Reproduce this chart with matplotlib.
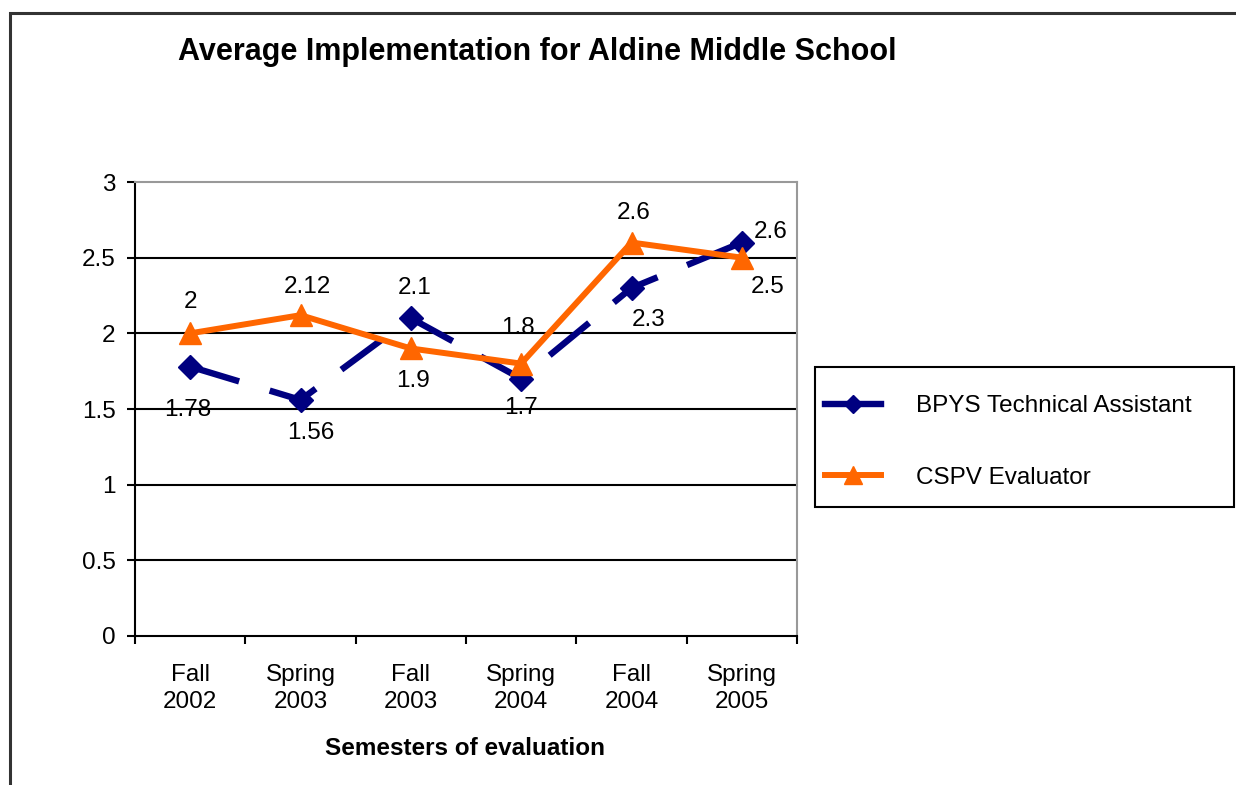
import matplotlib
matplotlib.use("Agg")
import matplotlib.pyplot as plt
from matplotlib.patches import Rectangle
from matplotlib.lines import Line2D
import numpy as np

plt.rcParams['font.family'] = ['Liberation Sans', 'DejaVu Sans']

categories = ["Fall\n2002", "Spring\n2003", "Fall\n2003", "Spring\n2004", "Fall\n2004", "Spring\n2005"]
bpys = [1.78, 1.56, 2.1, 1.7, 2.3, 2.6]
cspv = [2.0, 2.12, 1.9, 1.8, 2.6, 2.5]
bpys_labels = ["1.78", "1.56", "2.1", "1.7", "2.3", "2.6"]
cspv_labels = ["2", "2.12", "1.9", "1.8", "2.6", "2.5"]
series_names = ["BPYS Technical Assistant", "CSPV Evaluator"]
yticks = [0, 0.5, 1, 1.5, 2, 2.5, 3]
ytick_labels = ["0", "0.5", "1", "1.5", "2", "2.5", "3"]

# label offsets in pixels (dx, dy)
bpys_off = [(-2, -43), (10, -33), (4, 30), (0, -29), (17, -32), (29, 11)]
cspv_off = [(0, 31), (7, 28), (2, -33), (-3, 36), (2, 30), (26, -29)]

W, H = 1236, 785
fig = plt.figure(figsize=(W / 100, H / 100), dpi=100)
fig.patch.set_facecolor("white")

# outer chart frame
fig.patches.append(Rectangle((10 / W, -0.2), 1.2, 1.2 - 13 / H,
                             transform=fig.transFigure, fill=False,
                             edgecolor="#333333", linewidth=2.2))

ax = fig.add_axes([135 / W, 1 - 636 / H, (797 - 135) / W, (636 - 182) / H])
x = np.arange(len(categories))

navy = "#000080"
orange = "#FF6600"

ax.plot(x, bpys, color=navy, lw=4.6, linestyle=(0, (8, 5)), marker="D",
        markersize=12, markeredgecolor=navy, markerfacecolor=navy, zorder=3,
        dash_capstyle="butt")
ax.plot(x, cspv, color=orange, lw=4.3, marker="^", markersize=16,
        markeredgecolor=orange, markerfacecolor=orange, zorder=4)

for xi, yi, lab, (dx, dy) in zip(x, bpys, bpys_labels, bpys_off):
    ax.annotate(lab, (xi, yi), xytext=(dx, dy), textcoords="offset pixels",
                ha="center", va="center", fontsize=17.5, color="black", zorder=5)
for xi, yi, lab, (dx, dy) in zip(x, cspv, cspv_labels, cspv_off):
    ax.annotate(lab, (xi, yi), xytext=(dx, dy), textcoords="offset pixels",
                ha="center", va="center", fontsize=17.5, color="black", zorder=5)

ax.set_xlim(-0.5, len(categories) - 0.5)
ax.set_ylim(0, 3)
ax.set_yticks(yticks)
ax.set_yticklabels(ytick_labels, fontsize=17.5)
ax.set_xticks(x)
ax.set_xticklabels(categories, fontsize=17.5, linespacing=1.3)
ax.set_xticks(np.arange(-0.5, len(categories)), minor=True)
ax.tick_params(axis="x", which="major", length=0, pad=20)
ax.tick_params(axis="x", which="minor", length=6, width=1.5, direction="out", color="black")
ax.tick_params(axis="y", length=6, width=1.5, direction="out", pad=8, color="black")

for v in yticks[1:-1]:
    ax.axhline(v, color="black", lw=1.5, zorder=1)

ax.spines["left"].set_color("black")
ax.spines["left"].set_linewidth(1.5)
ax.spines["bottom"].set_color("black")
ax.spines["bottom"].set_linewidth(1.5)
ax.spines["top"].set_color("#999999")
ax.spines["top"].set_linewidth(1.5)
ax.spines["right"].set_color("#999999")
ax.spines["right"].set_linewidth(1.5)

ax.set_xlabel("Semesters of evaluation", fontsize=17.5, fontweight="bold")
ax.xaxis.set_label_coords(0.4985, -0.2467)
ax.xaxis.label.set_va("center")

fig.text(178 / W, 1 - 52 / H, "Average Implementation for Aldine Middle School",
         ha="left", va="center", fontsize=22, fontweight="bold")

# legend frame
fig.patches.append(Rectangle((815 / W, 1 - 507 / H), (1234 - 815) / W, (507 - 367) / H,
                             transform=fig.transFigure, fill=False,
                             edgecolor="black", linewidth=1.5))

handles = [
    Line2D([], [], color=navy, lw=4.6, marker="D", markersize=9),
    Line2D([], [], color=orange, lw=4.3, marker="^", markersize=13),
]
leg = fig.legend(handles, series_names, loc="upper left",
                 bbox_to_anchor=(825 / W, 1 - 395 / H),
                 fontsize=17.5, frameon=False,
                 borderaxespad=0, borderpad=0, handlelength=2.3,
                 labelspacing=2.05, handletextpad=1.45)

fig.savefig("out.png", dpi=100, facecolor="white")
